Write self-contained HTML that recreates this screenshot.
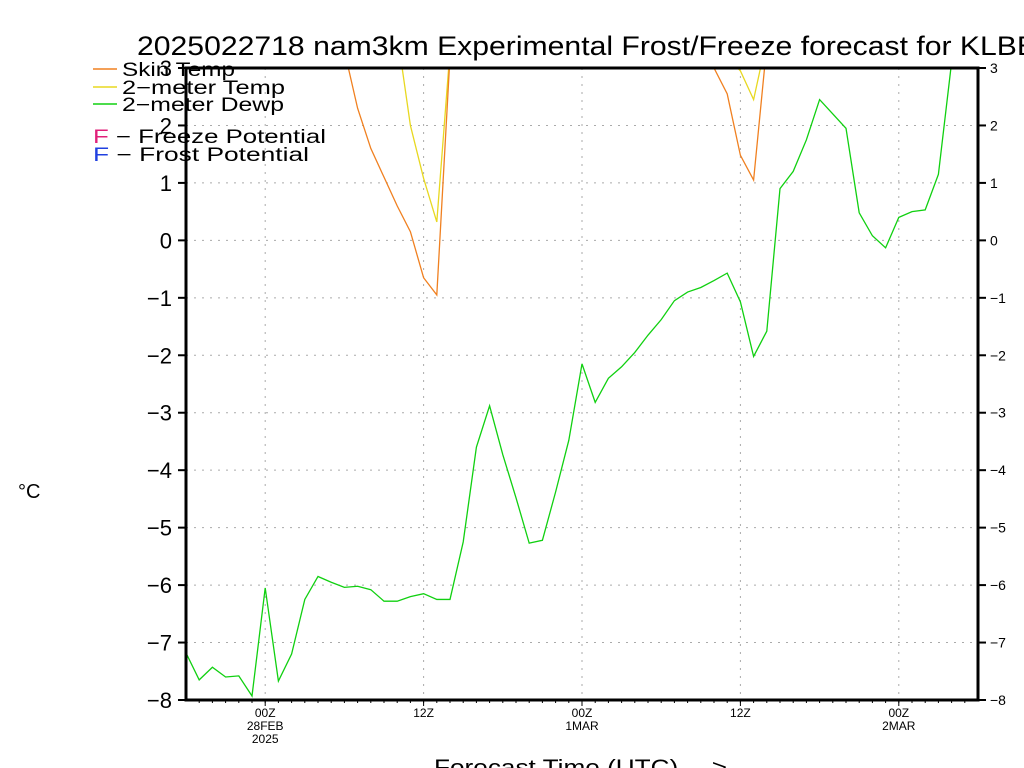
<!DOCTYPE html>
<html><head><meta charset="utf-8"><style>
body{margin:0;background:#fff;}
svg{display:block;font-family:"Liberation Sans",sans-serif;}
</style></head><body>
<svg id="chart" width="1024" height="768" viewBox="0 0 1024 768" xmlns="http://www.w3.org/2000/svg">
<text x="137" y="55" font-size="27" fill="#000" textLength="900" lengthAdjust="spacingAndGlyphs">2025022718 nam3km Experimental Frost/Freeze forecast for KLBE</text>
<g id="grid"></g>
<g id="ticks"></g>
<g id="series"></g>
<rect x="186" y="68" width="792" height="632" fill="none" stroke="#000" stroke-width="3"/>
<text x="18" y="498" font-size="20">°C</text>
<text x="434" y="775" font-size="22" textLength="293" lengthAdjust="spacingAndGlyphs">Forecast Time (UTC)  ---&gt;</text>
<g font-size="19">
<line x1="93" y1="69" x2="117" y2="69" stroke="#f08020" stroke-width="1.5"/><text x="122" y="76" textLength="113" lengthAdjust="spacingAndGlyphs">Skin Temp</text>
<line x1="93" y1="87" x2="117" y2="87" stroke="#e8d820" stroke-width="1.5"/><text x="122" y="94" textLength="163" lengthAdjust="spacingAndGlyphs">2−meter Temp</text>
<line x1="93" y1="104" x2="117" y2="104" stroke="#10d010" stroke-width="1.5"/><text x="122" y="111" textLength="162" lengthAdjust="spacingAndGlyphs">2−meter Dewp</text>
<text x="93" y="143" textLength="233" lengthAdjust="spacingAndGlyphs"><tspan fill="#e0207a">F</tspan> − Freeze Potential</text>
<text x="93" y="161" textLength="216" lengthAdjust="spacingAndGlyphs"><tspan fill="#2040e0">F</tspan> − Frost Potential</text>
</g>
</svg>
<script>
const hours=[0,1,2,3,4,5,6,7,8,9,10,11,12,13,14,15,16,17,18,19,20,21,22,23,24,25,26,27,28,29,30,31,32,33,34,35,36,37,38,39,40,41,42,43,44,45,46,47,48,49,50,51,52,53,54,55,56,57,58,59,60];
const dewp=[-7.18,-7.65,-7.43,-7.6,-7.58,-7.93,-6.05,-7.67,-7.2,-6.25,-5.85,-5.95,-6.04,-6.02,-6.08,-6.28,-6.28,-6.2,-6.15,-6.25,-6.25,-5.25,-3.6,-2.88,-3.73,-4.48,-5.27,-5.22,-4.38,-3.48,-2.15,-2.82,-2.4,-2.2,-1.95,-1.65,-1.38,-1.05,-0.9,-0.82,-0.7,-0.57,-1.07,-2.02,-1.58,0.9,1.2,1.75,2.45,2.2,1.95,0.48,0.08,-0.13,0.4,0.5,0.53,1.15,3.1,4.5,5.5];
const skinHours=[12,13,14,15,16,17,18,19,20,39,40,41,42,43,44];
const skinTemp=[3.3,2.3,1.6,1.1,0.6,0.15,-0.65,-0.95,3.2,3.3,3.0,2.55,1.48,1.05,3.4];
const t2Hours=[16,17,18,19,20,41,42,43,44];
const t2Temp=[3.6,2.0,1.08,0.32,3.3,3.2,2.95,2.45,3.5];
const yTicks=[3,2,1,0,-1,-2,-3,-4,-5,-6,-7,-8];
const xTickHours=[6,18,30,42,54];
const xTickLabels=[["00Z","28FEB","2025"],["12Z"],["00Z","1MAR"],["12Z"],["00Z","2MAR"]];
const X0=186,X1=978,Y0=68,Y1=700,HMAX=60,VMAX=3,VMIN=-8;
const xs=h=>X0+(h/HMAX)*(X1-X0);
const ys=v=>Y0+(VMAX-v)/(VMAX-VMIN)*(Y1-Y0);
const NS="http://www.w3.org/2000/svg";
const grid=document.getElementById('grid'),ticks=document.getElementById('ticks'),series=document.getElementById('series');
function mk(tag,attrs,parent){const e=document.createElementNS(NS,tag);for(const k in attrs)e.setAttribute(k,attrs[k]);parent.appendChild(e);return e;}
yTicks.forEach(v=>{
  const y=ys(v);
  if(v<VMAX&&v>VMIN){const g=mk('line',{x1:X0,x2:X1,y1:y,y2:y,stroke:'#aaa','stroke-dasharray':'2,6'},grid);
  
  }
  const l=mk('line',{x1:X0-8,x2:X0,y1:y,y2:y,stroke:'#000','stroke-width':2},ticks);
  
  
  const r=mk('line',{x1:X1,x2:X1+8,y1:y,y2:y,stroke:'#000','stroke-width':2},ticks);
  
  
  const lab=String(v).replace('-','−');
  const t=mk('text',{x:X0-14,y:y+8,'font-size':22,'text-anchor':'end'},ticks);t.textContent=lab;
  
  
  const t2=mk('text',{x:X1+12,y:y+5,'font-size':14},ticks);t2.textContent=lab;
  
  
});
for(let h=1;h<HMAX;h++){const x=xs(h);const m=mk('line',{x1:x,x2:x,y1:Y1,y2:Y1+3,stroke:'#000'},ticks);
  
  }
xTickHours.forEach((h,i)=>{
  const x=xs(h);
  const g=mk('line',{x1:x,x2:x,y1:Y0,y2:Y1,stroke:'#aaa','stroke-dasharray':'2,6'},grid);
  
  
  const tk=mk('line',{x1:x,x2:x,y1:Y1,y2:Y1+6,stroke:'#000'},ticks);
  
  
  xTickLabels[i].forEach((s,j)=>{const t=mk('text',{x:x,y:Y1+17+j*13,'font-size':12,'text-anchor':'middle'},ticks);t.textContent=s;
    
    });
});
const clip=mk('clipPath',{id:'pc'},mk('defs',{},document.getElementById('chart')));
mk('rect',{x:X0,y:Y0,width:X1-X0,height:Y1-Y0},clip);
function drawLine(hs,vs,color,name){
  const segs=[];let cur=[];
  hs.forEach((h,i)=>{if(i>0&&h-hs[i-1]>1){segs.push(cur);cur=[];}cur.push(xs(h)+','+ys(vs[i]));});
  segs.push(cur);
  segs.forEach(s=>{const p=mk('polyline',{points:s.join(' '),fill:'none',stroke:color,'stroke-width':1.3,'clip-path':'url(#pc)'},series);
    
    });
}
drawLine(hours,dewp,'#10d010','dewpoint-line');
drawLine(t2Hours,t2Temp,'#e8d820','2m-temp-line');
drawLine(skinHours,skinTemp,'#f08020','skin-temp-line');
</script>
</body></html>
